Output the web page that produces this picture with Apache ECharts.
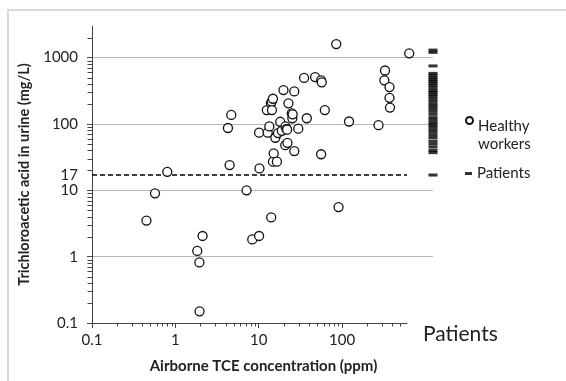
<!DOCTYPE html>
<html>
<head>
<meta charset="utf-8">
<script src="https://cdn.jsdelivr.net/npm/echarts@6/dist/echarts.min.js"></script>
<style>
  html, body { margin: 0; padding: 0; background: #fff; }
  #chart { width: 566px; height: 381px; }
</style>
</head>
<body>
<div id="chart"></div>
<script>
// healthy workers: [airborne TCE ppm, urine TCA mg/L]
const healthyWorkers = [
  [0.45, 3.5], [0.57, 9], [0.8, 19], [1.83, 1.22], [1.94, 0.82], [2.12, 2.05], [1.95, 0.15],
  [4.27, 87], [4.68, 137], [4.47, 24], [7.14, 10], [8.36, 1.82], [10.1, 2.05], [10.1, 74], [10.2, 21.4],
  [12.8, 74], [12.5, 162], [13.4, 92], [14.0, 205], [14.3, 218], [14.8, 240], [14.4, 162], [14.1, 3.9],
  [14.8, 27], [15.1, 36], [16.5, 27], [15.8, 62], [17, 73], [18.1, 108], [18.9, 79], [19.8, 325], [20.9, 92],
  [21.5, 84], [20.8, 48], [22.1, 52], [21.9, 82], [22.7, 205], [24.9, 145], [25.3, 122], [25.5, 140], [26.7, 39],
  [26.7, 310], [29.8, 85], [35, 495], [37.7, 122], [47.4, 510], [56, 35], [56, 455], [57, 425], [62, 162],
  [85, 1600], [90.6, 5.6], [121, 109], [273, 96], [327, 640], [321, 455], [370, 360], [370, 248], [375, 177], [638, 1160]
];

// patients: urine TCA mg/L only
const patients = [1300, 1200, 750, 580, 540, 500, 470, 440, 410, 380, 350, 320, 300, 280, 260, 240,
  220, 200, 185, 170, 155, 140, 125, 115, 105, 97, 90, 82, 75, 68, 62, 55, 50, 45, 40, 37, 17];

const threshold = 17;

const xMinorTicks = [0.2, 0.3, 0.4, 0.5, 0.6, 0.7, 0.8, 0.9, 2, 3, 4, 5, 6, 7, 8, 9,
  20, 30, 40, 50, 60, 70, 80, 90, 200, 300, 400, 500];
const yMinorTicks = [0.2, 0.3, 0.4, 0.5, 0.6, 0.7, 0.8, 0.9, 2, 3, 4, 5, 6, 7, 8, 9,
  20, 30, 40, 50, 60, 70, 80, 90, 200, 300, 400, 500, 600, 700, 800, 900, 2000];

const FONT = 'Lato';
const TXT = '#222';
const AXIS = '#444';
const GRIDLINE = '#b8b8b8';

// hollow circle sitting at the top of a taller icon box, so it lines up with the first text line
const CIRCLE_TOP_ICON = 'path://M0,3.5A3.5,3.5,0,1,1,7,3.5A3.5,3.5,0,1,1,0,3.5ZM3.5,37L3.5,37';

const chart = echarts.init(document.getElementById('chart'));

const tickRender = (horizontal) => (params, api) => {
  const p = api.coord([api.value(0), api.value(1)]);
  const x = Math.round(p[0]) + 0.5;
  const y = Math.round(p[1]) + 0.5;
  return {
    type: 'line',
    shape: horizontal ? { x1: x, y1: y, x2: x, y2: y + 3 } : { x1: x - 5, y1: y, x2: x, y2: y },
    style: { stroke: AXIS, lineWidth: 1 }
  };
};

const plainNumber = (v) => String(+(+v).toPrecision(6));

const option = {
  animation: false,
  textStyle: { fontFamily: FONT },
  graphic: [{
    type: 'rect', z: -10,
    shape: { x: 8, y: 10, width: 700, height: 500 },
    style: { fill: 'none', stroke: '#d9d9d9', lineWidth: 2 }
  }],
  title: {
    text: 'Patients', left: 423, top: 324, padding: 0,
    textStyle: { fontFamily: FONT, fontSize: 21, fontWeight: 'normal', color: TXT }
  },
  legend: [{
    data: ['Healthy workers'],
    left: 465, top: 116, padding: 0,
    itemWidth: 7, itemHeight: 37,
    icon: CIRCLE_TOP_ICON,
    formatter: () => 'Healthy\nworkers',
    textStyle: { fontFamily: FONT, fontSize: 15, color: TXT, lineHeight: 18 }
  }, {
    data: ['Patients'],
    left: 465, top: 166, padding: 0,
    itemWidth: 7, itemHeight: 3,
    icon: 'rect',
    textStyle: { fontFamily: FONT, fontSize: 15, color: TXT }
  }],
  grid: [
    { left: 92, top: 26, width: 315, bottom: 58 },
    { left: 407, top: 26, width: 26, bottom: 58 }
  ],
  xAxis: [{
    gridIndex: 0, type: 'log', logBase: 10, min: 0.1, max: 600,
    name: 'Airborne TCE concentration (ppm)', nameLocation: 'middle', nameGap: 36,
    nameTextStyle: { fontFamily: FONT, fontSize: 15, fontWeight: 'bold', color: TXT, padding: [0, 0, 0, 28] },
    axisLine: { lineStyle: { color: AXIS, width: 1 } },
    axisTick: { show: true, length: 5, lineStyle: { color: AXIS } },
    axisLabel: { fontFamily: FONT, fontSize: 15, color: TXT, margin: 10, showMaxLabel: false, formatter: plainNumber },
    splitLine: { show: false }
  }, {
    gridIndex: 1, type: 'value', min: 0, max: 1, show: false
  }],
  yAxis: [{
    gridIndex: 0, type: 'log', logBase: 10, min: 0.1, max: 3000,
    name: 'Trichloroacetic acid in urine (mg/L)', nameLocation: 'middle', nameGap: 57,
    nameTextStyle: { fontFamily: FONT, fontSize: 14.5, fontWeight: 'bold', color: TXT },
    axisLine: { show: true, lineStyle: { color: AXIS, width: 1 } },
    axisTick: { show: true, length: 5, lineStyle: { color: AXIS } },
    axisLabel: { fontFamily: FONT, fontSize: 15, color: TXT, margin: 14, showMaxLabel: false, formatter: plainNumber },
    splitLine: { show: true, showMinLine: false, showMaxLine: false, lineStyle: { color: GRIDLINE, width: 1 } }
  }, {
    gridIndex: 1, type: 'log', logBase: 10, min: 0.1, max: 3000,
    axisLine: { show: false }, axisTick: { show: false }, axisLabel: { show: false },
    splitLine: { show: true, showMinLine: false, showMaxLine: false, lineStyle: { color: GRIDLINE, width: 1 } }
  }],
  series: [
    {
      name: 'Healthy workers',
      type: 'scatter',
      xAxisIndex: 0, yAxisIndex: 0,
      clip: false,
      symbol: 'circle',
      symbolSize: 9,
      itemStyle: { color: '#fff', borderColor: '#111', borderWidth: 1.3, opacity: 1 },
      data: healthyWorkers,
      z: 5,
      markLine: {
        silent: true,
        symbol: 'none',
        lineStyle: { color: '#000', type: [5, 3], width: 1.5 },
        label: { show: true, position: 'start', distance: 14, formatter: String(threshold),
          fontFamily: FONT, fontSize: 15, color: TXT },
        data: [{ yAxis: threshold }]
      }
    },
    {
      name: 'Patients',
      type: 'scatter',
      xAxisIndex: 1, yAxisIndex: 1,
      clip: false,
      symbol: 'rect',
      symbolSize: [9, 3],
      itemStyle: { color: '#000' },
      data: patients.map(v => [1, v]),
      z: 5
    },
    {
      type: 'custom', silent: true, clip: false,
      xAxisIndex: 0, yAxisIndex: 0,
      renderItem: tickRender(true),
      data: xMinorTicks.map(v => [v, 0.1])
    },
    {
      type: 'custom', silent: true, clip: false,
      xAxisIndex: 0, yAxisIndex: 0,
      renderItem: tickRender(false),
      data: yMinorTicks.map(v => [0.1, v])
    }
  ]
};

chart.setOption(option);
</script>
</body>
</html>
